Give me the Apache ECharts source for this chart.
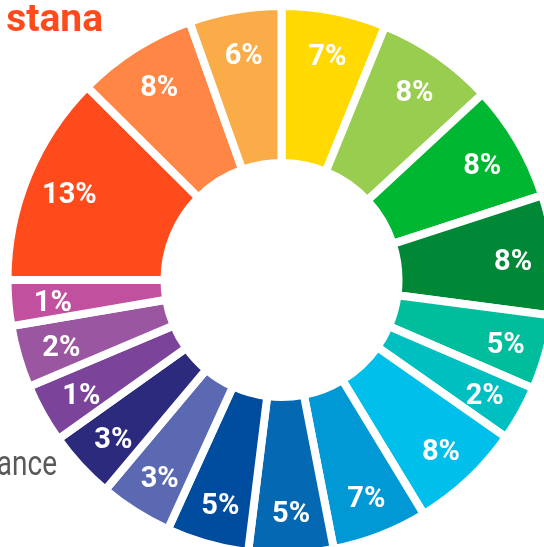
<!DOCTYPE html>
<html>
<head>
<meta charset="utf-8">
<script src="https://cdn.jsdelivr.net/npm/echarts@6/dist/echarts.min.js"></script>
<style>
html,body{margin:0;padding:0;background:#fff;}
#chart{width:544px;height:547px;}
</style>
</head>
<body>
<div id="chart"></div>
<script>
const shares = [22.2, 25.0, 24.8, 25.5, 15.8, 11.7, 23.7, 20.3, 18.0, 17.5, 15.5, 14.5, 12.6, 13.2, 9.7, 44.8, 25.6, 19.6];
// Printed labels
const labels = ['7%', '8%', '8%', '8%', '5%', '2%', '8%', '7%', '5%', '5%', '3%', '3%', '1%', '2%', '1%', '13%', '8%', '6%'];
const colors = ['#FFD900', '#98CD50', '#00B731', '#008837', '#00BE9C', '#00BFC0', '#00BFEA', '#0099D5', '#0568B3', '#004C9F', '#5B69B3', '#2B2A7C', '#7B449A', '#9A56A1', '#C1509E', '#FF4B1B', '#FF8645', '#F9AC47'];
const titleText = 'stana';
const sideText = 'ance';

const data = shares.map((v, i) => ({ value: v, name: 'S' + (i + 1), itemStyle: { color: colors[i] } }));

const chart = echarts.init(document.getElementById('chart'), null, { renderer: 'canvas' });
chart.setOption({
  animation: false,
  backgroundColor: '#fff',
  series: [
    {
      type: 'pie',
      center: [281.5, 280],
      radius: [271.5, 273],
      startAngle: 90,
      clockwise: true,
      silent: true,
      label: { show: false },
      labelLine: { show: false },
      itemStyle: { opacity: 0.18 },
      data: data
    },
    {
      type: 'pie',
      center: [281.5, 280],
      radius: [117, 274],
      startAngle: 90,
      clockwise: true,
      silent: true,
      label: { show: false },
      labelLine: { show: false },
      itemStyle: { borderColor: '#fff', borderWidth: 8 },
      data: data
    },
    {
      type: 'pie',
      center: [283, 284],
      radius: [186, 270],
      startAngle: 90,
      clockwise: true,
      silent: true,
      avoidLabelOverlap: false,
      itemStyle: { color: 'rgba(0,0,0,0)' },
      labelLine: { show: false },
      label: {
        show: true,
        position: 'inside',
        color: '#fff',
        fontFamily: 'Roboto',
        fontWeight: 'bold',
        fontSize: 29,
        formatter: p => labels[p.dataIndex]
      },
      data: shares.map((v, i) => ({ value: v, name: 'L' + (i + 1) }))
    }
  ],
  graphic: [
    {
      type: 'text',
      x: 103,
      y: 21,
      style: {
        text: titleText,
        align: 'right',
        verticalAlign: 'middle',
        fill: '#FF4B1B',
        fontFamily: 'Roboto',
        fontWeight: 'bold',
        fontSize: 39
      }
    },
    {
      type: 'text',
      x: 57,
      y: 466,
      scaleX: 0.8,
      style: {
        text: sideText,
        align: 'right',
        verticalAlign: 'middle',
        fill: '#58595B',
        fontFamily: 'Roboto',
        fontSize: 35
      }
    }
  ]
});
</script>
</body>
</html>
